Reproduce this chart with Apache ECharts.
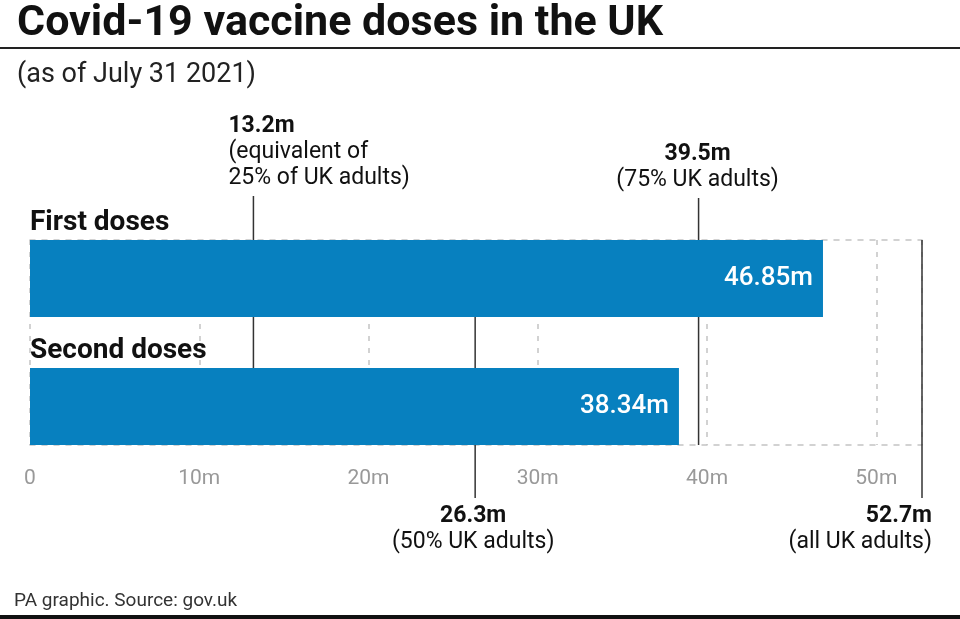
<!DOCTYPE html>
<html>
<head>
<meta charset="utf-8">
<title>Covid-19 vaccine doses in the UK</title>
<script src="https://cdn.jsdelivr.net/npm/echarts@6/dist/echarts.min.js"></script>
<style>
	html, body { margin: 0; padding: 0; background: #fff; }
	#chart { width: 960px; height: 619px; }
</style>
</head>
<body>
<div id="chart"></div>
<script>
	"use strict";

	/*----- data -----*/
	var categories = ['First doses', 'Second doses'];
	var doses = [46.85, 38.34];
	var tickValues = [0, 10, 20, 30, 40, 50];
	var axisMax = 52.7;
	var refValues = [13.2, 26.3, 39.5, 52.7];
	var refNotes = ['(equivalent of\n25% of UK adults)', '(50% UK adults)', '(75% UK adults)', '(all UK adults)'];

	// where each reference label sits: above or below, and how it is aligned
	var refPlace = [
		{ side: 'top', align: 'left', dx: -25, reach: 44 },
		{ side: 'bottom', align: 'center', dx: -2, reach: 53 },
		{ side: 'top', align: 'center', dx: -1, reach: 42 },
		{ side: 'bottom', align: 'right', dx: 10, reach: 53 }
	];

	var FONT = 'Roboto, "Liberation Sans", sans-serif';
	var barColor = '#0780bf';
	var gridDash = { color: '#c4c4c4', width: 1.5, type: [5, 7] };

	var chart = echarts.init(document.getElementById('chart'));

	// one series per row, shifted inside its band with barGap
	var barSeries = categories.map(function (name, i) {
		return {
			name: name,
			type: 'bar',
			barWidth: 77,
			barGap: '-66.9%',
			z: 3,
			itemStyle: { color: barColor },
			data: doses.map(function (v, j) { return j === i ? v : '-'; }),
			label: {
				show: true,
				position: 'insideRight',
				distance: 10,
				color: '#fff',
				fontFamily: FONT,
				fontSize: 26,
				fontWeight: 500,
				formatter: function (p) { return p.value + 'm'; }
			}
		};
	});

	var refSeries = {
		type: 'custom',
		z: 1,
		silent: true,
		data: refValues.map(function (v, i) { return [v, i]; }),
		renderItem: function (params, api) {
			var i = params.dataIndex;
			var p = refPlace[i];
			var cs = params.coordSys;
			var x = api.coord([api.value(0), 0])[0];
			var y1, y2, ty, va;
			if (p.side === 'top') {
				y1 = cs.y - p.reach;
				y2 = cs.y + cs.height;
				ty = y1 - 5;
				va = 'bottom';
			} else {
				y1 = cs.y;
				y2 = cs.y + cs.height + p.reach;
				ty = y2 + 5;
				va = 'top';
			}
			return {
				type: 'group',
				children: [
					{
						type: 'line',
						shape: { x1: x, y1: y1, x2: x, y2: y2 },
						style: { stroke: '#333', lineWidth: 1.5 }
					},
					{
						type: 'text',
						x: x + p.dx,
						y: ty,
						style: {
							text: '{b|' + refValues[i] + 'm}\n{n|' + refNotes[i].split('\n').join('}\n{n|') + '}',
							align: p.align,
							verticalAlign: va,
							fill: '#111',
							rich: {
								b: { fontFamily: FONT, fontSize: 23, fontWeight: 'bold', lineHeight: 26, fill: '#111' },
								n: { fontFamily: FONT, fontSize: 23, lineHeight: 26, fill: '#111' }
							}
						}
					}
				]
			};
		}
	};

	var option = {
		backgroundColor: '#fff',
		animation: false,
		title: [
			{
				text: 'Covid-19 vaccine doses in the UK',
				left: 12,
				top: -2,
				textStyle: { fontFamily: FONT, fontSize: 43, fontWeight: 'bold', color: '#111' }
			},
			{
				text: '(as of July 31 2021)',
				left: 12,
				top: 57,
				textStyle: { fontFamily: FONT, fontSize: 27, fontWeight: 'normal', color: '#222' }
			},
			{
				text: 'PA graphic. Source: gov.uk',
				left: 9,
				top: 587,
				textStyle: { fontFamily: FONT, fontSize: 19, fontWeight: 'normal', color: '#333' }
			}
		],
		grid: {
			top: 240,
			bottom: 174,
			left: 30,
			right: 38
		},
		xAxis: [
			{
				type: 'value',
				min: 0,
				max: axisMax,
				interval: 10,
				axisLine: { show: true, lineStyle: gridDash },
				axisTick: { show: false },
				splitLine: { show: true, lineStyle: gridDash },
				axisLabel: {
					margin: 23,
					color: '#999',
					fontFamily: FONT,
					fontSize: 21,
					formatter: function (v) {
						if (tickValues.indexOf(v) < 0) return '';
						return v === 0 ? '0' : v + 'm';
					}
				}
			},
			{
				type: 'value',
				position: 'top',
				min: 0,
				max: axisMax,
				interval: 10,
				axisLine: { show: true, lineStyle: gridDash },
				axisTick: { show: false },
				axisLabel: { show: false },
				splitLine: { show: false }
			}
		],
		yAxis: {
			type: 'category',
			inverse: true,
			data: categories,
			axisLine: { show: false },
			axisTick: { show: false },
			axisLabel: { show: false },
			splitLine: { show: false }
		},
		series: barSeries.concat([refSeries]),
		graphic: [
			{ type: 'rect', shape: { x: 0, y: 47, width: 960, height: 2 }, style: { fill: '#222' } },
			{ type: 'rect', shape: { x: 0, y: 615, width: 960, height: 4 }, style: { fill: '#111' } }
		]
	};

	chart.setOption(option);

	// row names sit just above each bar
	var nameGraphics = categories.map(function (name, i) {
		var layout = chart.getModel().getSeriesByIndex(i).getData().getItemLayout(i);
		return {
			type: 'text',
			x: chart.convertToPixel({ xAxisIndex: 0 }, 0),
			y: layout.y - 3,
			z: 10,
			style: {
				text: name,
				verticalAlign: 'bottom',
				fill: '#111',
				fontFamily: FONT,
				fontSize: 28,
				fontWeight: 'bold'
			}
		};
	});
	chart.setOption({ graphic: option.graphic.concat(nameGraphics) });
</script>
</body>
</html>
